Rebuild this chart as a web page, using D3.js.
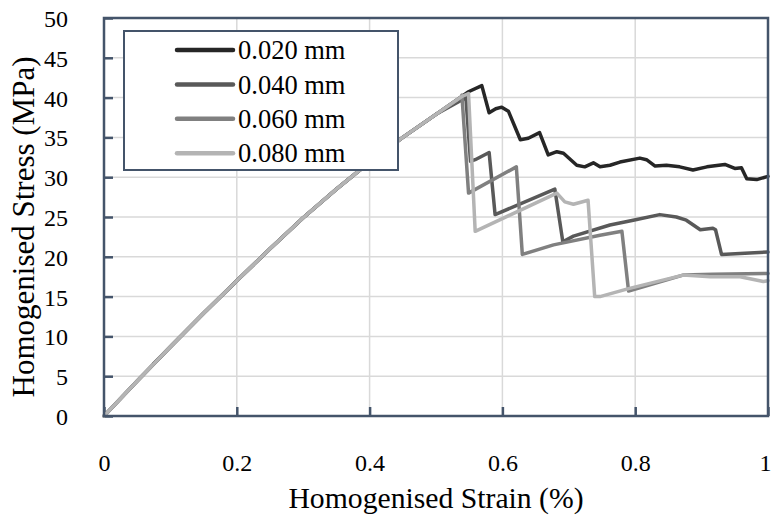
<!DOCTYPE html>
<html><head><meta charset="utf-8">
<script src="https://cdn.jsdelivr.net/npm/d3@7"></script>
<style>
html,body{margin:0;padding:0;background:#fff;}
text{font-family:"Liberation Serif","Times New Roman",serif;fill:#000;}
</style></head>
<body><svg id="chart" width="772" height="523"></svg>
<script>
// ---- data ----
const seriesNames = ["0.020 mm","0.040 mm","0.060 mm","0.080 mm"];
const seriesColors = ["#262626","#595959","#808080","#b4b4b4"];
const xTicks = [0,0.2,0.4,0.6,0.8,1];
const xTickLabels = ["0","0.2","0.4","0.6","0.8","1"];
const yTicks = [0,5,10,15,20,25,30,35,40,45,50];

// shared elastic branch
const preStrain = [0,0.05,0.1,0.15,0.2,0.25,0.3,0.35,0.4,0.45,0.5,0.54];
const preStress = [0,4.4,8.7,12.9,17.0,21.0,24.9,28.5,31.9,35.0,37.9,40.2];

const strain020 = [0.548,0.569,0.580,0.590,0.599,0.609,0.627,0.639,0.656,0.669,0.682,0.692,0.712,0.724,0.737,0.747,0.762,0.777,0.807,0.817,0.830,0.847,0.867,0.887,0.908,0.935,0.950,0.960,0.968,0.983,1.0];
const stress020 = [40.7,41.5,38.1,38.6,38.8,38.3,34.7,34.9,35.6,32.8,33.2,33.0,31.5,31.3,31.8,31.3,31.5,31.9,32.4,32.2,31.4,31.5,31.3,30.9,31.3,31.6,31.1,31.2,29.8,29.7,30.1];

const strain040 = [0.075,0.1,0.15,0.2,0.25,0.3,0.35,0.4,0.45,0.5,0.545,0.552,0.559,0.580,0.589,0.679,0.691,0.707,0.762,0.797,0.837,0.862,0.877,0.898,0.917,0.921,0.930,0.958,1.0];
const stress040 = [6.6,8.7,12.9,17.0,21.0,24.9,28.5,31.9,35.0,37.9,40.0,32.0,32.2,33.1,25.3,28.5,21.9,22.6,24.0,24.6,25.3,25.0,24.6,23.4,23.6,23.4,20.3,20.4,20.6];

const strain060 = [0.539,0.549,0.621,0.630,0.677,0.747,0.780,0.790,0.872,0.917,1.0];
const stress060 = [40.3,28.0,31.3,20.3,21.5,22.7,23.2,15.7,17.7,17.8,17.9];

const strain080 = [0.549,0.559,0.682,0.694,0.707,0.729,0.739,0.747,0.790,0.872,0.913,0.958,0.993,1.0];
const stress080 = [40.5,23.2,28.0,26.9,26.6,27.1,15.0,15.0,16.0,17.7,17.5,17.5,16.9,17.0];

// ---- build ----
const pts = (xs, ys) => xs.map((x,i)=>({x, y: ys[i]}));
const pre = pts(preStrain, preStress);
const series = [
  pre.concat(pts(strain020, stress020)),
  pts(strain040, stress040),
  pre.concat(pts(strain060, stress060)),
  pre.concat(pts(strain080, stress080))
];

const svg = d3.select("#chart");
const m = {left:104, top:18, right:4, bottom:107};
const W = 772 - m.left - m.right, H = 523 - m.top - m.bottom;
const x = d3.scaleLinear().domain([0,1]).range([0,W]);
const y = d3.scaleLinear().domain([0,50]).range([H,0]);
const g = svg.append("g").attr("transform",`translate(${m.left},${m.top})`);
const frame = "#44546a";

// grid
g.append("g").selectAll("line").data(xTicks.slice(1,-1)).join("line")
  .attr("x1",d=>x(d)).attr("x2",d=>x(d)).attr("y1",0).attr("y2",H)
  .attr("stroke","#d9d9d9").attr("stroke-width",1.5);
g.append("g").selectAll("line").data(yTicks.slice(1,-1)).join("line")
  .attr("y1",d=>y(d)).attr("y2",d=>y(d)).attr("x1",0).attr("x2",W)
  .attr("stroke","#d9d9d9").attr("stroke-width",1.5);

// axes (ticks inward)
const xAxis = g.append("g").attr("transform",`translate(0,${H})`)
  .call(d3.axisBottom(x).tickValues(xTicks).tickSizeInner(-9).tickSizeOuter(0).tickPadding(38).tickFormat((d,i)=>xTickLabels[i]));
const yAxis = g.append("g")
  .call(d3.axisLeft(y).tickValues(yTicks).tickSizeInner(-9).tickSizeOuter(0).tickPadding(36));
[xAxis,yAxis].forEach(a=>{
  a.select(".domain").remove();
  a.selectAll(".tick line").attr("stroke",frame).attr("stroke-width",2.5);
  a.selectAll(".tick text").attr("font-size",24).attr("font-family","Liberation Serif").attr("fill","#000");
});
yAxis.selectAll(".tick text").attr("dy","0.35em");
xAxis.selectAll(".tick text").filter(d=>d===1).attr("dx",-3);

// lines
const line = d3.line().x(d=>x(d.x)).y(d=>y(d.y));
g.append("g").selectAll("path").data(series).join("path")
  .attr("d",line).attr("fill","none")
  .attr("stroke",(d,i)=>seriesColors[i]).attr("stroke-width",3.5)
  .attr("stroke-linejoin","round").attr("stroke-linecap","round");

// frame
g.append("rect").attr("x",0).attr("y",0).attr("width",W).attr("height",H)
  .attr("fill","none").attr("stroke",frame).attr("stroke-width",2.5);

// legend
const lg = svg.append("g").attr("transform","translate(124,31)");
lg.append("rect").attr("width",274).attr("height",139).attr("fill","#fff")
  .attr("stroke",frame).attr("stroke-width",2);
const rows = lg.selectAll("g.row").data(seriesNames).join("g")
  .attr("transform",(d,i)=>`translate(0,${19+i*34.4})`);
rows.append("line").attr("x1",53).attr("x2",109).attr("y1",0).attr("y2",0)
  .attr("stroke",(d,i)=>seriesColors[i]).attr("stroke-width",4.5).attr("stroke-linecap","round");
rows.append("text").attr("x",114).attr("y",0).attr("dy","0.35em")
  .attr("font-size",26.5).text(d=>d);

// axis titles
svg.append("text").attr("x",m.left+W/2).attr("y",508).attr("text-anchor","middle")
  .attr("font-size",29.7).text("Homogenised Strain (%)");
svg.append("text").attr("transform",`translate(34,227) rotate(-90)`)
  .attr("text-anchor","middle").attr("font-size",31).text("Homogenised Stress (MPa)");
</script></body></html>
